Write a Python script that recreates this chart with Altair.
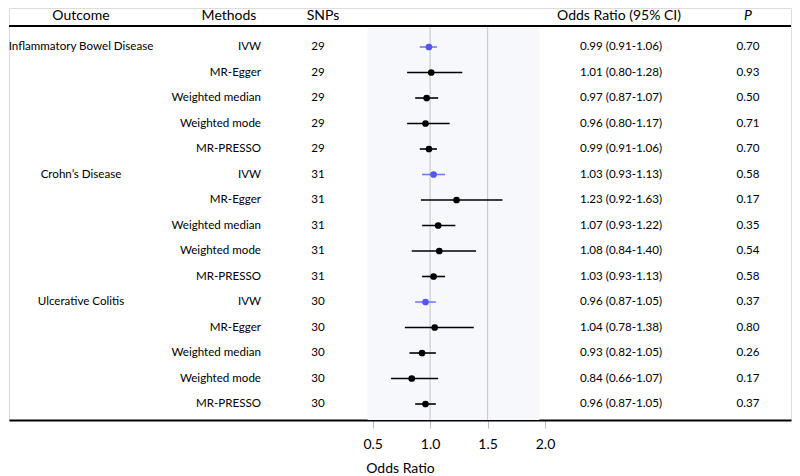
import altair as alt
import pandas as pd

outcomes = ["Inflammatory Bowel Disease", "Crohn\u2019s Disease", "Ulcerative Colitis"]
methods = ["IVW", "MR-Egger", "Weighted median", "Weighted mode", "MR-PRESSO"]
snps = [29, 31, 30]
or_vals = [0.99, 1.01, 0.97, 0.96, 0.99,
           1.03, 1.23, 1.07, 1.08, 1.03,
           0.96, 1.04, 0.93, 0.84, 0.96]
lower = [0.91, 0.80, 0.87, 0.80, 0.91,
         0.93, 0.92, 0.93, 0.84, 0.93,
         0.87, 0.78, 0.82, 0.66, 0.87]
upper = [1.06, 1.28, 1.07, 1.17, 1.06,
         1.13, 1.63, 1.22, 1.40, 1.13,
         1.05, 1.38, 1.05, 1.07, 1.05]
pvals = ["0.70", "0.93", "0.50", "0.71", "0.70",
         "0.58", "0.17", "0.35", "0.54", "0.58",
         "0.37", "0.80", "0.26", "0.17", "0.37"]
ticks = [0.5, 1.0, 1.5, 2.0]
ref_lines = [1.0, 1.5]
band = [0.456, 1.95]

rows = []
for i, oc in enumerate(outcomes):
    for j, m in enumerate(methods):
        k = i * 5 + j
        rows.append({
            "row": k + 1,
            "outcome": oc if j == 0 else "",
            "method": m,
            "snp": str(snps[i]),
            "or": or_vals[k], "lo": lower[k], "hi": upper[k],
            "ci": f"{or_vals[k]:.2f} ({lower[k]:.2f}-{upper[k]:.2f})",
            "p": pvals[k],
            "ivw": m == "IVW",
        })
df = pd.DataFrame(rows)

FONT = "Lato"
W, H = 782, 412
xscale = alt.Scale(domain=[-2.665, -2.665 + W / 114.9], nice=False, zero=False)
yscale = alt.Scale(domain=[-0.5294, 15.627], reverse=True, nice=False, zero=False)

xaxis = alt.Axis(values=ticks, format=".1f", title="Odds Ratio",
                 domainColor="black", domainWidth=2, tickColor="#bbbbbb",
                 tickSize=8, labelFontSize=14, labelFont=FONT, labelPadding=9,
                 labelColor="black", titleFont=FONT, titleFontSize=14,
                 titleFontWeight="normal", titlePadding=10, titleColor="black",
                 grid=False, labelFlush=False)

base = alt.Chart(df)
yenc = alt.Y("row:Q", scale=yscale, axis=None)

bg = alt.Chart(pd.DataFrame({"a": [band[0]], "b": [band[1]]})).mark_rect(color="#f6f8fc").encode(
    x=alt.X("a:Q", scale=xscale, axis=xaxis), x2="b:Q",
    y=alt.value(18), y2=alt.value(H))
vlines = alt.Chart(pd.DataFrame({"v": ref_lines})).mark_rule(color="#cccccc", strokeWidth=1.2).encode(
    x=alt.X("v:Q", scale=xscale), y=alt.value(18), y2=alt.value(H))
topline = alt.Chart(pd.DataFrame({"v": [0]})).mark_rule(color="black", strokeWidth=2).encode(
    x=alt.value(0), x2=alt.value(W), y=alt.value(18))

ci = base.mark_rule(strokeWidth=1.6).encode(
    x=alt.X("lo:Q", scale=xscale), x2="hi:Q", y=yenc,
    color=alt.condition("datum.ivw", alt.value("#7878f2"), alt.value("black")))
pts = base.mark_circle(size=45, opacity=1).encode(
    x=alt.X("or:Q", scale=xscale), y=yenc,
    color=alt.condition("datum.ivw", alt.value("#5555f0"), alt.value("black")))

def col(field, xpx, align):
    return base.mark_text(font=FONT, fontSize=11.6, align=align, baseline="middle", color="black").encode(
        x=alt.value(xpx), y=yenc, text=f"{field}:N")

texts = [col("outcome", 72, "center"), col("method", 252, "right"), col("snp", 309, "center"),
         col("ci", 612, "center"), col("p", 739, "center")]

def header(t, xpx, italic=False):
    return alt.Chart(pd.DataFrame({"t": [t]})).mark_text(
        font=FONT, fontSize=14, align="center", baseline="top", color="black",
        fontStyle="italic" if italic else "normal").encode(
        x=alt.value(xpx), y=alt.value(1), text="t:N")

headers = [header("Outcome", 72), header("Methods", 220), header("SNPs", 314),
           header("Odds Ratio (95% CI)", 610), header("P", 739, True)]

chart = alt.layer(bg, vlines, topline, ci, pts, *texts, *headers).properties(
    width=W, height=H, padding={"left": 0, "top": 0, "right": 0, "bottom": 0}
).configure_view(strokeWidth=0, stroke="transparent").configure(background="white")

chart.save("out.html", embed_options={"renderer": "svg", "actions": False})
